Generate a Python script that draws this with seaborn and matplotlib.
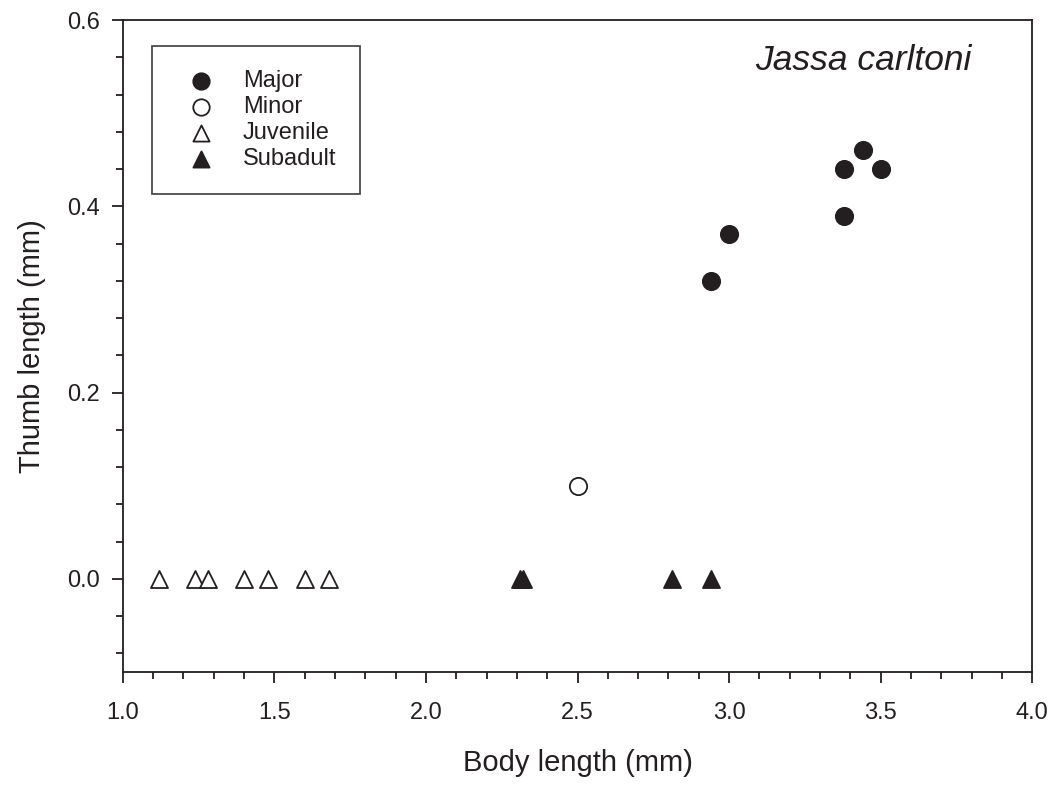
import pandas as pd
import seaborn as sns
import matplotlib.pyplot as plt
from matplotlib.ticker import MultipleLocator

# values
major_body = [2.94, 3.00, 3.38, 3.44, 3.50, 3.38]
major_thumb = [0.32, 0.37, 0.44, 0.46, 0.44, 0.39]

minor_body = [2.50]
minor_thumb = [0.10]

juv_body = [1.12, 1.24, 1.28, 1.40, 1.48, 1.60, 1.68]
juv_thumb = [0.0, 0.0, 0.0, 0.0, 0.0, 0.0, 0.0]

sub_body = [2.31, 2.32, 2.81, 2.94]
sub_thumb = [0.0, 0.0, 0.0, 0.0]

groups = ['Major', 'Minor', 'Juvenile', 'Subadult']

df = pd.concat([
    pd.DataFrame({'body': major_body, 'thumb': major_thumb, 'group': 'Major'}),
    pd.DataFrame({'body': minor_body, 'thumb': minor_thumb, 'group': 'Minor'}),
    pd.DataFrame({'body': juv_body, 'thumb': juv_thumb, 'group': 'Juvenile'}),
    pd.DataFrame({'body': sub_body, 'thumb': sub_thumb, 'group': 'Subadult'}),
], ignore_index=True)

sns.set_style('ticks')
plt.rcParams['font.family'] = ['Liberation Sans', 'DejaVu Sans']

ink = '#231f20'
styles = {
    'Major': dict(marker='o', facecolor=ink, s=155),
    'Minor': dict(marker='o', facecolor='white', s=155),
    'Juvenile': dict(marker='^', facecolor='white', s=150),
    'Subadult': dict(marker='^', facecolor=ink, s=150),
}

fig = plt.figure(figsize=(10.55, 7.85), dpi=100)
ax = fig.add_axes([0.1163, 0.1439, 0.9785 - 0.1163, 0.9745 - 0.1439])

for g in groups:
    st = styles[g]
    sns.scatterplot(data=df[df['group'] == g], x='body', y='thumb', ax=ax,
                    marker=st['marker'], s=st['s'], color=st['facecolor'],
                    edgecolor=ink, linewidth=1.3, label=g, zorder=3)

ax.set_xlim(1.0, 4.0)
ax.set_ylim(-0.1, 0.6)
ax.xaxis.set_minor_locator(MultipleLocator(0.1))
ax.yaxis.set_minor_locator(MultipleLocator(0.04))
ax.set_xticks([1.0, 1.5, 2.0, 2.5, 3.0, 3.5, 4.0])
ax.set_xticklabels(['1.0', '1.5', '2.0', '2.5', '3.0', '3.5', '4.0'])
ax.set_yticks([0.0, 0.2, 0.4, 0.6])
ax.set_yticklabels(['0.0', '0.2', '0.4', '0.6'])

for sp in ax.spines.values():
    sp.set_color(ink)
    sp.set_linewidth(1.3)
ax.tick_params(which='major', length=7.7, width=1.3, color=ink, labelsize=17,
               labelcolor=ink, direction='out')
ax.tick_params(which='minor', length=5.2, width=1.3, color=ink, direction='out')
ax.tick_params(axis='x', which='major', pad=14)
ax.tick_params(axis='y', which='major', pad=8.5)
ax.tick_params(top=False, right=False, which='both')

ax.set_xlabel('Body length (mm)', fontsize=21, color=ink, labelpad=18)
ax.set_ylabel('Thumb length (mm)', fontsize=21, color=ink, labelpad=15)

ax.text(0.695, 0.923, 'Jassa carltoni', transform=ax.transAxes, fontsize=25.5,
        style='italic', color=ink, ha='left', va='baseline')

leg = ax.legend(loc='upper left', bbox_to_anchor=(0.032, 0.96), fontsize=17,
                frameon=True, fancybox=False, handletextpad=0.65,
                handlelength=2.2, labelspacing=0.18, borderpad=1.0,
                markerscale=0.95, borderaxespad=0)
leg.get_frame().set_edgecolor(ink)
leg.get_frame().set_linewidth(1.3)
for t in leg.get_texts():
    t.set_color(ink)

fig.savefig('out.png', dpi=100)
